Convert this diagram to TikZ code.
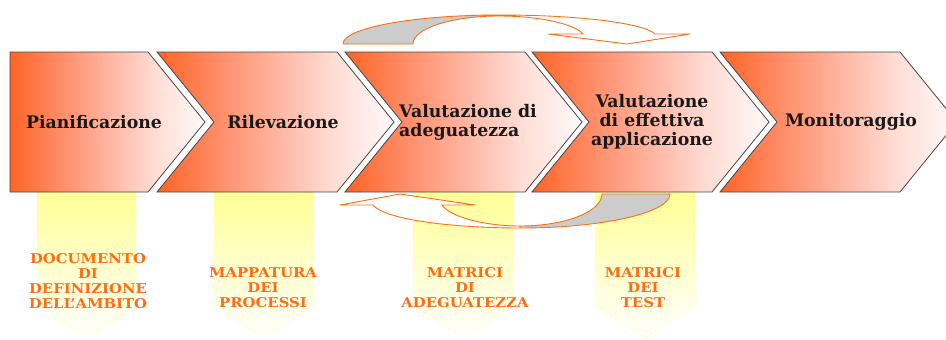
\documentclass[tikz,border=0pt]{standalone}
\usepackage{fontspec}
\setmainfont{DejaVu Serif}
\newfontfamily\lblfont[FakeStretch=1.1]{DejaVu Serif}
\definecolor{oA}{RGB}{255,100,38}
\definecolor{oB}{RGB}{255,138,100}
\definecolor{oC}{RGB}{255,180,160}
\definecolor{oD}{RGB}{255,220,212}
\definecolor{oE}{RGB}{255,250,250}
\definecolor{lbl}{RGB}{255,108,20}
\definecolor{arrline}{RGB}{255,110,20}
\definecolor{backgray}{RGB}{204,204,204}
\definecolor{ribtop}{RGB}{255,255,150}
\definecolor{ribline}{RGB}{255,255,170}
\definecolor{chevline}{RGB}{70,70,70}
\pgfdeclarehorizontalshading{chevshade}{100bp}{color(0bp)=(oA); color(25bp)=(oA); color(37bp)=(oB); color(50bp)=(oC); color(62bp)=(oD); color(75bp)=(oE); color(100bp)=(oE)}
\begin{document}
\begin{tikzpicture}[x=1pt,y=-1pt,
  chev/.style={shading=chevshade, draw=chevline, line width=0.8pt, line join=miter},
  ribbon/.style={top color=ribtop, bottom color=white, draw=ribline, dashed, line width=0.8pt},
  steplabel/.style={text=black!90, font=\fontsize{17.3}{19}\selectfont\bfseries, inner sep=0pt},
  outlabel/.style={text=lbl, font=\lblfont\fontsize{13.5}{15}\selectfont\bfseries, align=center, inner sep=0pt},
  arrback/.style={fill=backgray, draw=arrline, line width=0.9pt, line join=round},
  arrfront/.style={fill=white, draw=arrline, line width=0.9pt, line join=miter}]
\useasboundingbox (0,0) rectangle (946,340);
% ribbons
\foreach \l/\r in {37/136, 214/313, 413/513, 595/695}
  \path[ribbon] (\l,192) -- (\r,192) -- (\r,305) -- ({(\l+\r)/2},338) -- (\l,305) -- cycle;
% chevrons
\path[chev] (10,52) -- (148,52) -- (205,122) -- (148,192) -- (10,192) -- cycle;
\foreach \t in {337,525,712,900}
  \path[chev] (\t-180,52) -- (\t,52) -- (\t+57,122) -- (\t,192) -- (\t-180,192) -- (\t-123,122) -- cycle;
% top curved arrow
\path[arrback] (343,44) .. controls (343,28) and (413,15) .. (499,15)
  -- (499,16) .. controls (451.5,16) and (413,28.5) .. (413,44) -- cycle;
\path[arrfront] (499,15) .. controls (585,15) and (645,24) .. (655,34)
  -- (690,34) -- (627,44) -- (548,34) -- (583,34)
  .. controls (577,26) and (546,16) .. (499,16) -- cycle;
% bottom curved arrow
\path[arrback] (602,194) -- (670,194) .. controls (670,212.8) and (602.8,228) .. (520,228)
  -- (520,226) .. controls (565,226) and (602,211.7) .. (602,194) -- cycle;
\path[arrfront] (520,228) .. controls (455,228) and (385,220) .. (373,205)
  -- (340,205) -- (400,194) -- (475,205) -- (442,205)
  .. controls (450,217) and (485,226) .. (520,226) -- cycle;
% step labels
\node[steplabel] (s1) at (94,122) {Pianificazione};
\node[steplabel] (s2) at (283,122) {Rilevazione};
\node[steplabel, align=left, anchor=west] (s3) at (399,122) {Valutazione di\\adeguatezza};
\node[steplabel, align=center] (s4) at (652,122) {Valutazione\\di effettiva\\applicazione};
\node[steplabel] (s5) at (851,122) {Monitoraggio};
% output labels
\node[outlabel] (o1) at (88,281) {DOCUMENTO\\DI\\DEFINIZIONE\\DELL’AMBITO};
\node[outlabel] (o2) at (263,288) {MAPPATURA\\DEI\\PROCESSI};
\node[outlabel] (o3) at (465,288) {MATRICI\\DI\\ADEGUATEZZA};
\node[outlabel] (o4) at (643,288) {MATRICI\\DEI\\TEST};
\end{tikzpicture}
\end{document}
